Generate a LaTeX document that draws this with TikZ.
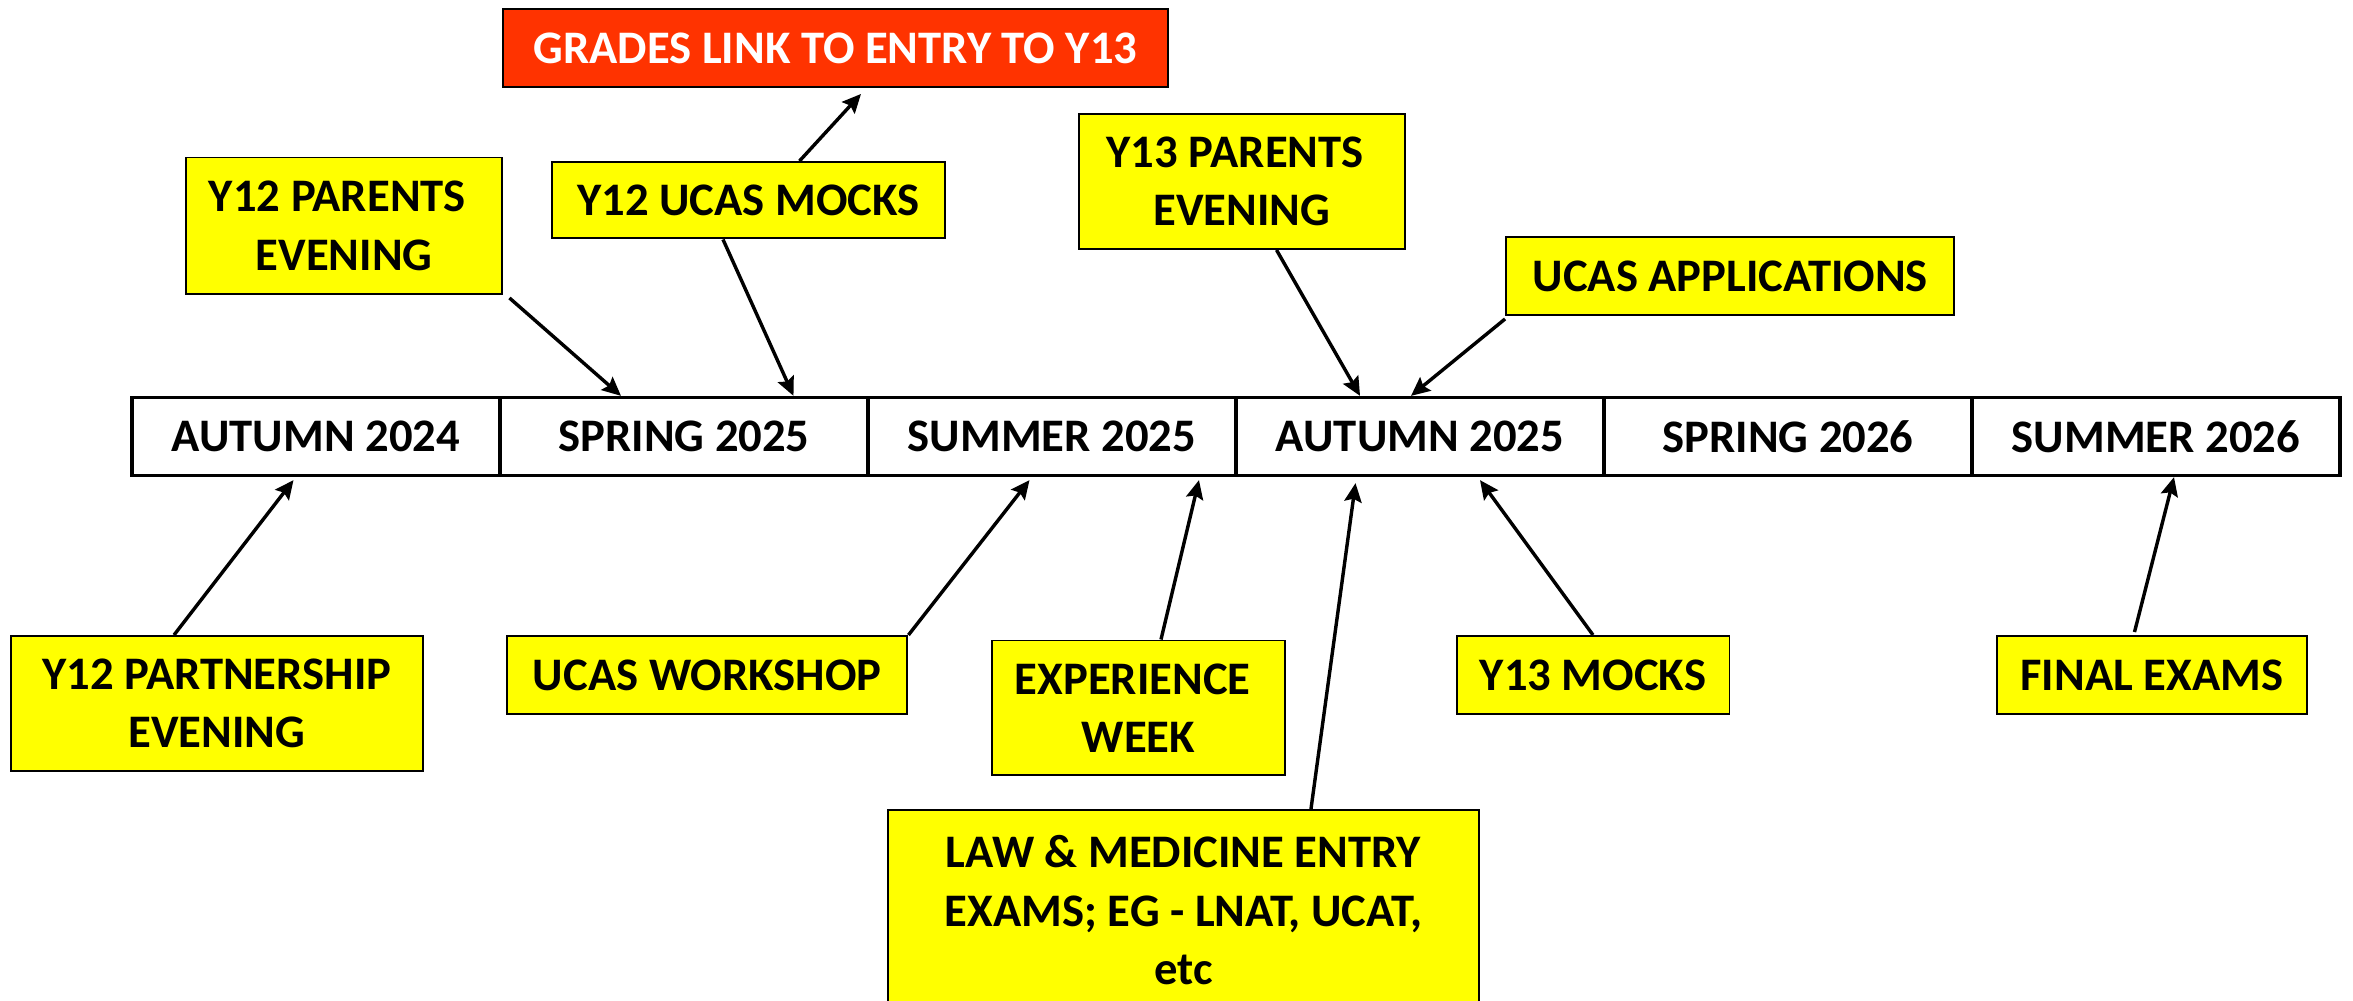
\documentclass[tikz,border=0pt]{standalone}
\usepackage{fontspec}
\setmainfont{Carlito}
\usetikzlibrary{arrows.meta}
\definecolor{boxyellow}{RGB}{255,255,0}
\definecolor{boxred}{RGB}{255,51,0}
\begin{document}
\begin{tikzpicture}[x=0.02cm,y=-0.02cm,
  every node/.style={font=\fontsize{17.7}{22.2}\selectfont\bfseries, inner sep=0pt, align=center},
  cell/.style={draw=black, line width=1.25pt, fill=white, minimum width=4.9067cm, minimum height=1.04cm},
  ybox/.style={draw=black, line width=0.75pt, fill=boxyellow},
  rbox/.style={draw=black, line width=0.75pt, fill=boxred, text=white},
  arr/.style={line width=1.3pt, -{Stealth[length=0.25cm,width=0.23cm,inset=0.04cm]}}]
\useasboundingbox (0,0) rectangle (1568.67,667.33);
\clip (0,0) rectangle (1568.67,667.33);

% timeline cells
\node[cell] (c1) at (210.67,291) {AUTUMN 2024};
\node[cell] (c2) at (456,291) {SPRING 2025};
\node[cell] (c3) at (701.33,291) {SUMMER 2025};
\node[cell] (c4) at (946.67,291) {AUTUMN 2025};
\node[cell] (c5) at (1192,291) {SPRING 2026};
\node[cell] (c6) at (1437.33,291) {SUMMER 2026};

% top boxes
\node[rbox, minimum width=8.88cm, minimum height=1.04cm] (grades) at (557,32) {GRADES LINK TO ENTRY TO Y13};
\node[ybox, minimum width=4.22cm, minimum height=1.82cm] (y12p) at (229.5,150.5) {Y12 PARENTS\kern0.3em\\EVENING};
\node[ybox, minimum width=5.24cm, minimum height=1.02cm] (y12m) at (499,133.5) {Y12 UCAS MOCKS};
\node[ybox, minimum width=4.36cm, minimum height=1.8cm] (y13p) at (828,121) {Y13 PARENTS\kern0.3em\\EVENING};
\node[ybox, minimum width=5.98cm, minimum height=1.04cm] (ucasapp) at (1153.5,184) {UCAS APPLICATIONS};

% bottom boxes
\node[ybox, minimum width=5.5cm, minimum height=1.8cm] (y12pe) at (144.5,469) {Y12 PARTNERSHIP\\EVENING};
\node[ybox, minimum width=5.34cm, minimum height=1.04cm] (ucasw) at (471.5,450) {UCAS WORKSHOP};
\node[ybox, minimum width=3.92cm, minimum height=1.8cm] (exp) at (759,472) {EXPERIENCE\kern0.25em\\WEEK};
\node[ybox, minimum width=7.88cm, minimum height=2.68cm] (law) at (789,607) {LAW \& MEDICINE ENTRY\\EXAMS; EG - LNAT, UCAT,\\etc};
\node[ybox, minimum width=3.64cm, minimum height=1.04cm] (y13m) at (1062,450) {Y13 MOCKS};
\node[ybox, minimum width=4.14cm, minimum height=1.04cm] (final) at (1434.5,450) {FINAL EXAMS};

% connectors
\draw[arr] ([xshift=0.68cm]y12m.north) -- ([xshift=0.34cm,yshift=-0.08cm]grades.south);
\draw[arr] ([xshift=0.08cm,yshift=-0.04cm]y12p.south east) -- ([xshift=-0.84cm]c2.north);
\draw[arr] ([xshift=-0.34cm]y12m.south) -- ([xshift=1.46cm]c2.north);
\draw[arr] ([xshift=0.46cm]y13p.south) -- ([xshift=-0.8cm]c4.north);
\draw[arr] ([yshift=-0.04cm]ucasapp.south west) -- ([xshift=-0.12cm]c4.north);
\draw[arr] ([xshift=-0.57cm]y12pe.north) -- ([xshift=-0.3cm,yshift=-0.04cm]c1.south);
\draw[arr] (ucasw.north east) -- ([xshift=-0.3cm,yshift=-0.04cm]c3.south);
\draw[arr] ([xshift=0.3cm]exp.north) -- ([xshift=1.96cm,yshift=-0.04cm]c3.south);
\draw[arr] ([xshift=1.7cm]law.north) -- ([xshift=-0.86cm,yshift=-0.08cm]c4.south);
\draw[arr] (y13m.north) -- ([xshift=0.8cm,yshift=-0.04cm]c4.south);
\draw[arr] ([xshift=-0.23cm,yshift=0.04cm]final.north) -- ([xshift=0.24cm]c6.south);
\end{tikzpicture}
\end{document}
